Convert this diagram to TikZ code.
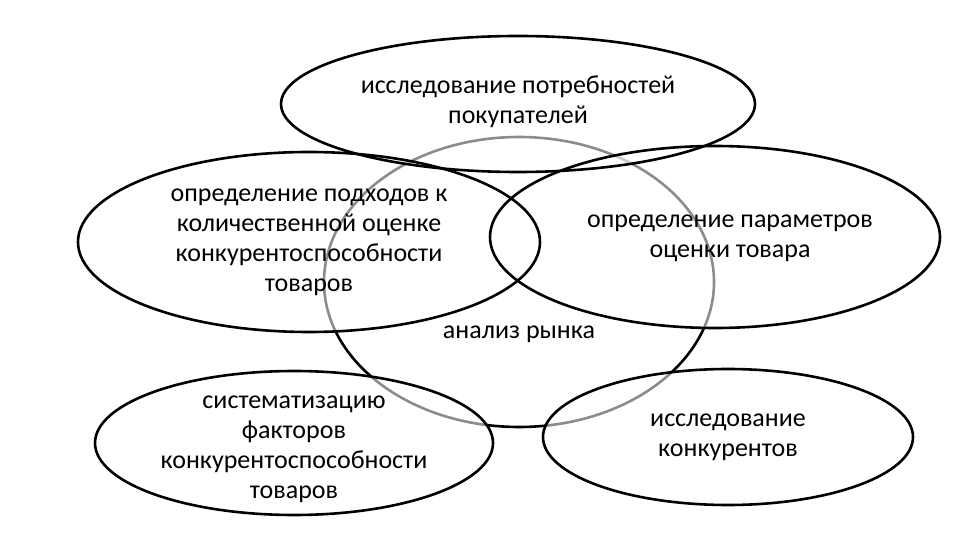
\documentclass[tikz,border=0pt]{standalone}
\usepackage{fontspec}
\setmainfont{Carlito}
\usetikzlibrary{positioning,shapes.geometric}

\begin{document}
\begin{tikzpicture}[x=1pt, y=-1pt,
    oval/.style={ellipse, draw=black, line width=2.6pt, inner sep=0pt},
    veil/.style={fill=white, fill opacity=0.55},
    txt/.style={align=center, font=\fontsize{26}{30}\selectfont, text=black}]
  \useasboundingbox (0,0) rectangle (972,534);
  % market analysis first, the other ovals veil it
  \node[oval, line width=2.6pt, minimum width=390pt, minimum height=290pt] (market) at (519,282) {};
  % veils
  \fill[veil] (518,104) ellipse [x radius=237pt, y radius=68pt];
  \fill[veil] (309,242) ellipse [x radius=231pt, y radius=90pt];
  \fill[veil] (715,237) ellipse [x radius=225pt, y radius=91pt];
  \fill[veil] (294,443) ellipse [x radius=199pt, y radius=72pt];
  \fill[veil] (728,437) ellipse [x radius=185pt, y radius=68pt];
  \node[txt, below=40pt of market.center] (marketlabel) {анализ рынка};
  % goals
  \node[oval, minimum width=474pt, minimum height=136pt,
    label={[txt, yshift=2pt]center:{исследование потребностей\\покупателей}}] (needs) at (518,104) {};
  \node[oval, minimum width=462pt, minimum height=180pt,
    label={[txt]center:{определение подходов к\\количественной оценке\\конкурентоспособности\\товаров}}] (approach) at (309,242) {};
  \node[oval, minimum width=450pt, minimum height=182pt,
    label={[txt, xshift=15pt, yshift=-1pt]center:{определение параметров\\оценки товара}}] (params) at (715,237) {};
  \node[oval, minimum width=398pt, minimum height=144pt,
    label={[txt, yshift=-6pt]center:{систематизацию\\факторов\\конкурентоспособности\\товаров}}] (factors) at (294,443) {};
  \node[oval, minimum width=370pt, minimum height=136pt,
    label={[txt]center:{исследование\\конкурентов}}] (rivals) at (728,437) {};
\end{tikzpicture}
\end{document}
